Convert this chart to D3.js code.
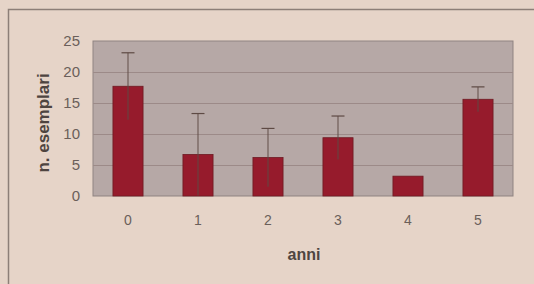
<!DOCTYPE html>
<html>
<head>
<meta charset="utf-8">
<script src="https://cdn.jsdelivr.net/npm/d3@7"></script>
<style>
  html, body { margin: 0; padding: 0; background: #e6d4c8; }
  svg { display: block; }
</style>
</head>
<body>
<div id="chart"></div>
<script>
const anni = ["0", "1", "2", "3", "4", "5"];
const esemplari = [17.7, 6.7, 6.2, 9.4, 3.2, 15.6];
const errori = [5.4, 6.6, 4.7, 3.5, 0, 2.0];
const yTicks = [0, 5, 10, 15, 20, 25];

const W = 534, H = 284;
const margin = { top: 41, right: 21, bottom: 88, left: 93 };

const svg = d3.select("#chart")
    .append("svg")
    .attr("width", W)
    .attr("height", H);

// photo-like paper background
svg.append("rect")
    .attr("width", W).attr("height", H)
    .attr("fill", "#e6d4c8");

// outer frame (cut off at right and bottom)
svg.append("path")
    .attr("d", `M8.5,${H} V9.5 H${W}`)
    .attr("fill", "none")
    .attr("stroke", "#8d7f78")
    .attr("stroke-width", 1.5);

const x = d3.scaleBand()
    .domain(anni)
    .range([margin.left, W - margin.right])
    .paddingInner(0.57)
    .paddingOuter(0.285);

const y = d3.scaleLinear()
    .domain([0, 25])
    .range([H - margin.bottom, margin.top]);

// plot area
svg.append("rect")
    .attr("x", margin.left)
    .attr("y", margin.top)
    .attr("width", W - margin.left - margin.right)
    .attr("height", H - margin.top - margin.bottom)
    .attr("fill", "#b6a8a6")
    .attr("stroke", "#8f8381")
    .attr("stroke-width", 1);

// gridlines
svg.append("g")
    .selectAll("line")
    .data(yTicks.filter(d => d > 0 && d < 25))
    .join("line")
    .attr("x1", margin.left)
    .attr("x2", W - margin.right)
    .attr("y1", d => y(d) + 0.5)
    .attr("y2", d => y(d) + 0.5)
    .attr("stroke", "#9c8a88")
    .attr("stroke-width", 1);

// bars
svg.append("g")
    .selectAll("rect")
    .data(anni)
    .join("rect")
    .attr("x", d => x(d))
    .attr("width", x.bandwidth())
    .attr("y", (d, i) => y(esemplari[i]))
    .attr("height", (d, i) => y(0) - y(esemplari[i]))
    .attr("fill", "#961b2c")
    .attr("stroke", "#6e1a22")
    .attr("stroke-width", 0.8);

// error bars
const err = svg.append("g")
    .attr("stroke", "#5e4a44")
    .attr("stroke-width", 1.2);
anni.forEach((d, i) => {
    if (!errori[i]) return;
    const cx = x(d) + x.bandwidth() / 2;
    err.append("line")
        .attr("x1", cx).attr("x2", cx)
        .attr("y1", y(esemplari[i] - errori[i]))
        .attr("y2", y(esemplari[i] + errori[i]))
        .attr("stroke-opacity", 0.8);
    err.append("line")
        .attr("x1", cx - 6.5).attr("x2", cx + 6.5)
        .attr("y1", y(esemplari[i] + errori[i]))
        .attr("y2", y(esemplari[i] + errori[i]));
});

// axes
const yAxis = svg.append("g")
    .attr("transform", `translate(${margin.left},0)`)
    .call(d3.axisLeft(y).tickValues(yTicks).tickSize(0).tickPadding(13));
yAxis.select(".domain").remove();
yAxis.selectAll("text")
    .attr("fill", "#6b5f5a")
    .style("font", "15px 'Liberation Sans', Arial, sans-serif");

const xAxis = svg.append("g")
    .attr("transform", `translate(0,${H - margin.bottom})`)
    .call(d3.axisBottom(x).tickSize(0).tickPadding(19));
xAxis.select(".domain").remove();
xAxis.selectAll("text")
    .attr("fill", "#6b5f5a")
    .style("font", "14px 'Liberation Sans', Arial, sans-serif");

// axis titles
svg.append("text")
    .attr("x", 304)
    .attr("y", 260)
    .attr("text-anchor", "middle")
    .attr("fill", "#4e4440")
    .style("font", "bold 16px 'Liberation Sans', Arial, sans-serif")
    .text("anni");

svg.append("text")
    .attr("transform", "translate(49,123) rotate(-90)")
    .attr("text-anchor", "middle")
    .attr("fill", "#4e4440")
    .style("font", "bold 17px 'Liberation Sans', Arial, sans-serif")
    .text("n. esemplari");
</script>
</body>
</html>
